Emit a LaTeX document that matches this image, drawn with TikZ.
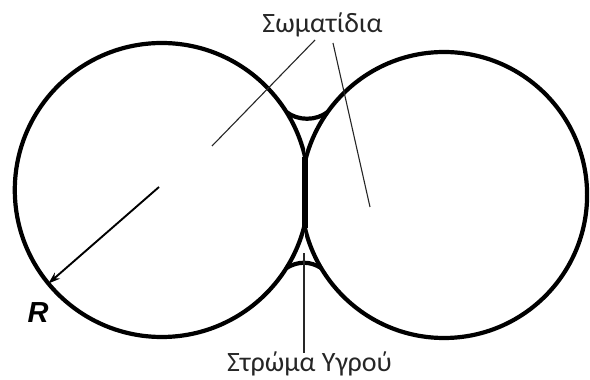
\documentclass[tikz,border=0pt]{standalone}
\usepackage{fontspec}
\newfontfamily\grfont{Carlito}
\newfontfamily\lbfont{Liberation Sans}
\usetikzlibrary{arrows.meta}

\begin{document}
\begin{tikzpicture}[x=1pt,y=1pt,
  wall/.style={line width=4.2pt,black},
  lead/.style={line width=1.1pt,black!85},
  lbl/.style={font=\grfont\fontsize{28}{32}\selectfont,text=black!85,inner sep=0pt,anchor=base}]
\useasboundingbox (0,0) rectangle (590,380);
\coordinate (lc) at (161.8,190);
\coordinate (rc) at (444.1,185);
% the two particles, flattened where they touch
\begin{scope}
  \clip (0,0) rectangle (305,380);
  \draw[wall] (lc) circle[radius=147];
\end{scope}
\begin{scope}
  \clip (305,0) rectangle (590,380);
  \draw[wall] (rc) circle[radius=143];
\end{scope}
\draw[wall,line width=5.4pt] (305,152) -- (305,223.2);
% liquid bridge menisci
\draw[wall] (286.4,268) .. controls (298,259) and (316,259) .. (327.7,268);
\draw[wall] (286.4,112) .. controls (298,119) and (310,119) .. (321.1,112);
% labels
\node[lbl] (top) at (322.5,347) {Σωματίδια};
\node[lbl] (bot) at (309.5,8) {Στρώμα Υγρού};
\node[lbl,font=\lbfont\bfseries\itshape\fontsize{29}{32}\selectfont,text=black] (rad) at (38,57) {R};
\coordinate (t1) at (315,340);
\coordinate (t2) at (333,337);
\coordinate (p1) at (212,234);
\coordinate (p2) at (370,173);
\coordinate (b0) at (304,27);
\coordinate (b1) at (304,127);
\draw[lead] (t1) -- (p1);
\draw[lead] (t2) -- (p2);
\draw[lead] (b0) -- (b1);
% radius
\coordinate (ctr) at (159,193);
\coordinate (tip) at ([shift={(219.5:147)}]lc);
\draw[line width=1.9pt,-{Stealth[length=12pt,width=8pt]}] (ctr) -- (tip);
\end{tikzpicture}
\end{document}
